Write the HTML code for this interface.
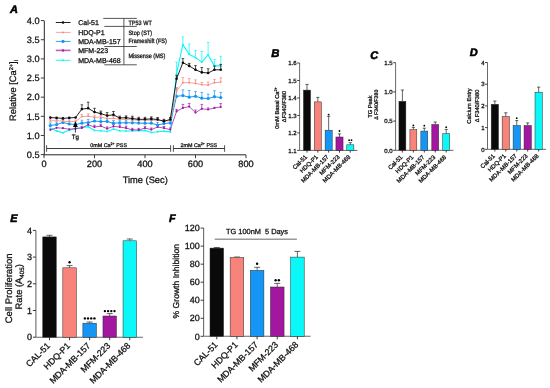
<!DOCTYPE html>
<html><head><meta charset="utf-8"><style>
html,body{margin:0;padding:0;background:#fff;}
body{width:550px;height:388px;overflow:hidden;}
svg{display:block;font-family:"Liberation Sans", sans-serif;filter:blur(0.3px);text-rendering:geometricPrecision;}
text{stroke:#111;stroke-width:0.28px;}
</style></head><body>
<svg width="550" height="388" viewBox="0 0 550 388">
<rect width="550" height="388" fill="#fff"/>
<text x="10.00" y="13.20" font-size="11" font-weight="bold" font-style="italic" fill="#000" style="stroke:#000;stroke-width:0.55px">A</text>
<line x1="44.30" y1="20.60" x2="44.30" y2="155.20" stroke="#262626" stroke-width="1.0"/>
<line x1="40.80" y1="154.60" x2="44.00" y2="154.60" stroke="#262626" stroke-width="0.9"/>
<text x="39.60" y="157.90" font-size="9.2" text-anchor="end" font-weight="normal" font-style="normal" fill="#111" >0.5</text>
<line x1="40.80" y1="135.46" x2="44.00" y2="135.46" stroke="#262626" stroke-width="0.9"/>
<text x="39.60" y="138.76" font-size="9.2" text-anchor="end" font-weight="normal" font-style="normal" fill="#111" >1.0</text>
<line x1="40.80" y1="116.31" x2="44.00" y2="116.31" stroke="#262626" stroke-width="0.9"/>
<text x="39.60" y="119.61" font-size="9.2" text-anchor="end" font-weight="normal" font-style="normal" fill="#111" >1.5</text>
<line x1="40.80" y1="97.17" x2="44.00" y2="97.17" stroke="#262626" stroke-width="0.9"/>
<text x="39.60" y="100.47" font-size="9.2" text-anchor="end" font-weight="normal" font-style="normal" fill="#111" >2.0</text>
<line x1="40.80" y1="78.03" x2="44.00" y2="78.03" stroke="#262626" stroke-width="0.9"/>
<text x="39.60" y="81.33" font-size="9.2" text-anchor="end" font-weight="normal" font-style="normal" fill="#111" >2.5</text>
<line x1="40.80" y1="58.88" x2="44.00" y2="58.88" stroke="#262626" stroke-width="0.9"/>
<text x="39.60" y="62.18" font-size="9.2" text-anchor="end" font-weight="normal" font-style="normal" fill="#111" >3.0</text>
<line x1="40.80" y1="39.74" x2="44.00" y2="39.74" stroke="#262626" stroke-width="0.9"/>
<text x="39.60" y="43.04" font-size="9.2" text-anchor="end" font-weight="normal" font-style="normal" fill="#111" >3.5</text>
<line x1="40.80" y1="20.60" x2="44.00" y2="20.60" stroke="#262626" stroke-width="0.9"/>
<text x="39.60" y="23.90" font-size="9.2" text-anchor="end" font-weight="normal" font-style="normal" fill="#111" >4.0</text>
<line x1="44.00" y1="154.80" x2="246.00" y2="154.80" stroke="#262626" stroke-width="1.0"/>
<line x1="44.00" y1="155.00" x2="44.00" y2="158.20" stroke="#262626" stroke-width="0.9"/>
<text x="44.00" y="166.80" font-size="9.2" text-anchor="middle" font-weight="normal" font-style="normal" fill="#111" >0</text>
<line x1="94.50" y1="155.00" x2="94.50" y2="158.20" stroke="#262626" stroke-width="0.9"/>
<text x="94.50" y="166.80" font-size="9.2" text-anchor="middle" font-weight="normal" font-style="normal" fill="#111" >200</text>
<line x1="145.00" y1="155.00" x2="145.00" y2="158.20" stroke="#262626" stroke-width="0.9"/>
<text x="145.00" y="166.80" font-size="9.2" text-anchor="middle" font-weight="normal" font-style="normal" fill="#111" >400</text>
<line x1="195.50" y1="155.00" x2="195.50" y2="158.20" stroke="#262626" stroke-width="0.9"/>
<text x="195.50" y="166.80" font-size="9.2" text-anchor="middle" font-weight="normal" font-style="normal" fill="#111" >600</text>
<line x1="246.00" y1="155.00" x2="246.00" y2="158.20" stroke="#262626" stroke-width="0.9"/>
<text x="246.00" y="166.80" font-size="9.2" text-anchor="middle" font-weight="normal" font-style="normal" fill="#111" >800</text>
<text x="145.20" y="183.20" font-size="9.3" text-anchor="middle" font-weight="normal" font-style="normal" fill="#111" >Time (Sec)</text>
<text transform="translate(16.2 90.5) rotate(-90)" font-size="9.3" text-anchor="middle" fill="#111">Relative [Ca<tspan font-size="5.6" dy="-3.6">2+</tspan><tspan dy="3.6">]</tspan><tspan font-size="5.6" dy="1.6">i</tspan></text>
<line x1="46.60" y1="148.50" x2="170.60" y2="148.50" stroke="#262626" stroke-width="0.9"/>
<line x1="46.60" y1="145.20" x2="46.60" y2="151.80" stroke="#262626" stroke-width="0.8"/>
<line x1="170.60" y1="145.20" x2="170.60" y2="151.80" stroke="#262626" stroke-width="0.8"/>
<line x1="173.40" y1="148.50" x2="224.60" y2="148.50" stroke="#262626" stroke-width="0.9"/>
<line x1="173.40" y1="145.20" x2="173.40" y2="151.80" stroke="#262626" stroke-width="0.8"/>
<line x1="224.60" y1="145.20" x2="224.60" y2="151.80" stroke="#262626" stroke-width="0.8"/>
<text x="108.6" y="146.6" font-size="5.4" text-anchor="middle" fill="#222">0mM Ca<tspan font-size="3.6" dy="-1.8">2+</tspan><tspan dy="1.8"> PSS</tspan></text>
<text x="198.8" y="146.6" font-size="5.4" text-anchor="middle" fill="#222">2mM Ca<tspan font-size="3.6" dy="-1.8">2+</tspan><tspan dy="1.8"> PSS</tspan></text>
<line x1="176.56" y1="73.70" x2="176.56" y2="62.00" stroke="#0af8f8" stroke-width="0.7"/>
<line x1="175.26" y1="62.00" x2="177.86" y2="62.00" stroke="#0af8f8" stroke-width="0.7"/>
<line x1="182.88" y1="44.70" x2="182.88" y2="36.90" stroke="#0af8f8" stroke-width="0.7"/>
<line x1="181.57" y1="36.90" x2="184.18" y2="36.90" stroke="#0af8f8" stroke-width="0.7"/>
<line x1="189.19" y1="54.30" x2="189.19" y2="44.00" stroke="#0af8f8" stroke-width="0.7"/>
<line x1="187.89" y1="44.00" x2="190.49" y2="44.00" stroke="#0af8f8" stroke-width="0.7"/>
<line x1="195.50" y1="57.60" x2="195.50" y2="50.50" stroke="#0af8f8" stroke-width="0.7"/>
<line x1="194.20" y1="50.50" x2="196.80" y2="50.50" stroke="#0af8f8" stroke-width="0.7"/>
<line x1="201.81" y1="62.10" x2="201.81" y2="51.50" stroke="#0af8f8" stroke-width="0.7"/>
<line x1="200.51" y1="51.50" x2="203.11" y2="51.50" stroke="#0af8f8" stroke-width="0.7"/>
<line x1="208.12" y1="55.00" x2="208.12" y2="42.50" stroke="#0af8f8" stroke-width="0.7"/>
<line x1="206.82" y1="42.50" x2="209.43" y2="42.50" stroke="#0af8f8" stroke-width="0.7"/>
<line x1="214.44" y1="65.90" x2="214.44" y2="59.50" stroke="#0af8f8" stroke-width="0.7"/>
<line x1="213.14" y1="59.50" x2="215.74" y2="59.50" stroke="#0af8f8" stroke-width="0.7"/>
<line x1="220.75" y1="65.90" x2="220.75" y2="56.30" stroke="#0af8f8" stroke-width="0.7"/>
<line x1="219.45" y1="56.30" x2="222.05" y2="56.30" stroke="#0af8f8" stroke-width="0.7"/>
<polyline points="50.31,128.20 56.62,130.90 62.94,132.80 69.25,130.10 75.56,128.60 81.88,127.80 88.19,126.70 94.50,130.50 100.81,130.80 107.12,131.50 113.44,129.00 119.75,130.70 126.06,131.00 132.38,131.00 138.69,130.70 145.00,130.40 151.31,132.50 157.62,131.70 163.94,131.30 170.25,131.90 176.56,73.70 182.88,44.70 189.19,54.30 195.50,57.60 201.81,62.10 208.12,55.00 214.44,65.90 220.75,65.90" fill="none" stroke="#0af8f8" stroke-width="1.1"/>
<circle cx="50.31" cy="128.20" r="1.0" fill="#0af8f8"/>
<circle cx="56.62" cy="130.90" r="1.0" fill="#0af8f8"/>
<circle cx="62.94" cy="132.80" r="1.0" fill="#0af8f8"/>
<circle cx="69.25" cy="130.10" r="1.0" fill="#0af8f8"/>
<circle cx="75.56" cy="128.60" r="1.0" fill="#0af8f8"/>
<circle cx="81.88" cy="127.80" r="1.0" fill="#0af8f8"/>
<circle cx="88.19" cy="126.70" r="1.0" fill="#0af8f8"/>
<circle cx="94.50" cy="130.50" r="1.0" fill="#0af8f8"/>
<circle cx="100.81" cy="130.80" r="1.0" fill="#0af8f8"/>
<circle cx="107.12" cy="131.50" r="1.0" fill="#0af8f8"/>
<circle cx="113.44" cy="129.00" r="1.0" fill="#0af8f8"/>
<circle cx="119.75" cy="130.70" r="1.0" fill="#0af8f8"/>
<circle cx="126.06" cy="131.00" r="1.0" fill="#0af8f8"/>
<circle cx="132.38" cy="131.00" r="1.0" fill="#0af8f8"/>
<circle cx="138.69" cy="130.70" r="1.0" fill="#0af8f8"/>
<circle cx="145.00" cy="130.40" r="1.0" fill="#0af8f8"/>
<circle cx="151.31" cy="132.50" r="1.0" fill="#0af8f8"/>
<circle cx="157.62" cy="131.70" r="1.0" fill="#0af8f8"/>
<circle cx="163.94" cy="131.30" r="1.0" fill="#0af8f8"/>
<circle cx="170.25" cy="131.90" r="1.0" fill="#0af8f8"/>
<circle cx="176.56" cy="73.70" r="1.0" fill="#0af8f8"/>
<circle cx="182.88" cy="44.70" r="1.0" fill="#0af8f8"/>
<circle cx="189.19" cy="54.30" r="1.0" fill="#0af8f8"/>
<circle cx="195.50" cy="57.60" r="1.0" fill="#0af8f8"/>
<circle cx="201.81" cy="62.10" r="1.0" fill="#0af8f8"/>
<circle cx="208.12" cy="55.00" r="1.0" fill="#0af8f8"/>
<circle cx="214.44" cy="65.90" r="1.0" fill="#0af8f8"/>
<circle cx="220.75" cy="65.90" r="1.0" fill="#0af8f8"/>
<line x1="81.88" y1="127.90" x2="81.88" y2="126.40" stroke="#a3169f" stroke-width="0.7"/>
<line x1="80.58" y1="126.40" x2="83.17" y2="126.40" stroke="#a3169f" stroke-width="0.7"/>
<line x1="88.19" y1="124.80" x2="88.19" y2="122.60" stroke="#a3169f" stroke-width="0.7"/>
<line x1="86.89" y1="122.60" x2="89.49" y2="122.60" stroke="#a3169f" stroke-width="0.7"/>
<line x1="94.50" y1="127.00" x2="94.50" y2="125.20" stroke="#a3169f" stroke-width="0.7"/>
<line x1="93.20" y1="125.20" x2="95.80" y2="125.20" stroke="#a3169f" stroke-width="0.7"/>
<line x1="100.81" y1="126.00" x2="100.81" y2="124.20" stroke="#a3169f" stroke-width="0.7"/>
<line x1="99.51" y1="124.20" x2="102.11" y2="124.20" stroke="#a3169f" stroke-width="0.7"/>
<line x1="107.12" y1="128.70" x2="107.12" y2="126.90" stroke="#a3169f" stroke-width="0.7"/>
<line x1="105.83" y1="126.90" x2="108.42" y2="126.90" stroke="#a3169f" stroke-width="0.7"/>
<line x1="113.44" y1="126.40" x2="113.44" y2="124.40" stroke="#a3169f" stroke-width="0.7"/>
<line x1="112.14" y1="124.40" x2="114.74" y2="124.40" stroke="#a3169f" stroke-width="0.7"/>
<line x1="119.75" y1="127.00" x2="119.75" y2="125.00" stroke="#a3169f" stroke-width="0.7"/>
<line x1="118.45" y1="125.00" x2="121.05" y2="125.00" stroke="#a3169f" stroke-width="0.7"/>
<line x1="126.06" y1="128.10" x2="126.06" y2="126.10" stroke="#a3169f" stroke-width="0.7"/>
<line x1="124.76" y1="126.10" x2="127.36" y2="126.10" stroke="#a3169f" stroke-width="0.7"/>
<line x1="132.38" y1="129.90" x2="132.38" y2="128.30" stroke="#a3169f" stroke-width="0.7"/>
<line x1="131.07" y1="128.30" x2="133.68" y2="128.30" stroke="#a3169f" stroke-width="0.7"/>
<line x1="138.69" y1="129.90" x2="138.69" y2="128.30" stroke="#a3169f" stroke-width="0.7"/>
<line x1="137.39" y1="128.30" x2="139.99" y2="128.30" stroke="#a3169f" stroke-width="0.7"/>
<line x1="145.00" y1="128.10" x2="145.00" y2="126.30" stroke="#a3169f" stroke-width="0.7"/>
<line x1="143.70" y1="126.30" x2="146.30" y2="126.30" stroke="#a3169f" stroke-width="0.7"/>
<line x1="151.31" y1="129.60" x2="151.31" y2="128.00" stroke="#a3169f" stroke-width="0.7"/>
<line x1="150.01" y1="128.00" x2="152.61" y2="128.00" stroke="#a3169f" stroke-width="0.7"/>
<line x1="157.62" y1="127.00" x2="157.62" y2="125.40" stroke="#a3169f" stroke-width="0.7"/>
<line x1="156.32" y1="125.40" x2="158.93" y2="125.40" stroke="#a3169f" stroke-width="0.7"/>
<line x1="163.94" y1="128.10" x2="163.94" y2="126.50" stroke="#a3169f" stroke-width="0.7"/>
<line x1="162.64" y1="126.50" x2="165.24" y2="126.50" stroke="#a3169f" stroke-width="0.7"/>
<line x1="170.25" y1="129.60" x2="170.25" y2="128.00" stroke="#a3169f" stroke-width="0.7"/>
<line x1="168.95" y1="128.00" x2="171.55" y2="128.00" stroke="#a3169f" stroke-width="0.7"/>
<line x1="176.56" y1="111.40" x2="176.56" y2="109.40" stroke="#a3169f" stroke-width="0.7"/>
<line x1="175.26" y1="109.40" x2="177.86" y2="109.40" stroke="#a3169f" stroke-width="0.7"/>
<line x1="182.88" y1="107.90" x2="182.88" y2="104.40" stroke="#a3169f" stroke-width="0.7"/>
<line x1="181.57" y1="104.40" x2="184.18" y2="104.40" stroke="#a3169f" stroke-width="0.7"/>
<line x1="189.19" y1="106.60" x2="189.19" y2="103.40" stroke="#a3169f" stroke-width="0.7"/>
<line x1="187.89" y1="103.40" x2="190.49" y2="103.40" stroke="#a3169f" stroke-width="0.7"/>
<line x1="195.50" y1="112.60" x2="195.50" y2="110.00" stroke="#a3169f" stroke-width="0.7"/>
<line x1="194.20" y1="110.00" x2="196.80" y2="110.00" stroke="#a3169f" stroke-width="0.7"/>
<line x1="201.81" y1="108.80" x2="201.81" y2="104.40" stroke="#a3169f" stroke-width="0.7"/>
<line x1="200.51" y1="104.40" x2="203.11" y2="104.40" stroke="#a3169f" stroke-width="0.7"/>
<line x1="208.12" y1="109.50" x2="208.12" y2="107.90" stroke="#a3169f" stroke-width="0.7"/>
<line x1="206.82" y1="107.90" x2="209.43" y2="107.90" stroke="#a3169f" stroke-width="0.7"/>
<line x1="220.75" y1="107.00" x2="220.75" y2="103.60" stroke="#a3169f" stroke-width="0.7"/>
<line x1="219.45" y1="103.60" x2="222.05" y2="103.60" stroke="#a3169f" stroke-width="0.7"/>
<polyline points="50.31,129.80 56.62,127.80 62.94,128.20 69.25,129.30 75.56,128.60 81.88,127.90 88.19,124.80 94.50,127.00 100.81,126.00 107.12,128.70 113.44,126.40 119.75,127.00 126.06,128.10 132.38,129.90 138.69,129.90 145.00,128.10 151.31,129.60 157.62,127.00 163.94,128.10 170.25,129.60 176.56,111.40 182.88,107.90 189.19,106.60 195.50,112.60 201.81,108.80 208.12,109.50 214.44,107.90 220.75,107.00" fill="none" stroke="#b03cb0" stroke-width="0.9"/>
<circle cx="50.31" cy="129.80" r="1.1" fill="#a3169f"/>
<circle cx="56.62" cy="127.80" r="1.1" fill="#a3169f"/>
<circle cx="62.94" cy="128.20" r="1.1" fill="#a3169f"/>
<circle cx="69.25" cy="129.30" r="1.1" fill="#a3169f"/>
<circle cx="75.56" cy="128.60" r="1.1" fill="#a3169f"/>
<circle cx="81.88" cy="127.90" r="1.1" fill="#a3169f"/>
<circle cx="88.19" cy="124.80" r="1.1" fill="#a3169f"/>
<circle cx="94.50" cy="127.00" r="1.1" fill="#a3169f"/>
<circle cx="100.81" cy="126.00" r="1.1" fill="#a3169f"/>
<circle cx="107.12" cy="128.70" r="1.1" fill="#a3169f"/>
<circle cx="113.44" cy="126.40" r="1.1" fill="#a3169f"/>
<circle cx="119.75" cy="127.00" r="1.1" fill="#a3169f"/>
<circle cx="126.06" cy="128.10" r="1.1" fill="#a3169f"/>
<circle cx="132.38" cy="129.90" r="1.1" fill="#a3169f"/>
<circle cx="138.69" cy="129.90" r="1.1" fill="#a3169f"/>
<circle cx="145.00" cy="128.10" r="1.1" fill="#a3169f"/>
<circle cx="151.31" cy="129.60" r="1.1" fill="#a3169f"/>
<circle cx="157.62" cy="127.00" r="1.1" fill="#a3169f"/>
<circle cx="163.94" cy="128.10" r="1.1" fill="#a3169f"/>
<circle cx="170.25" cy="129.60" r="1.1" fill="#a3169f"/>
<circle cx="176.56" cy="111.40" r="1.1" fill="#a3169f"/>
<circle cx="182.88" cy="107.90" r="1.1" fill="#a3169f"/>
<circle cx="189.19" cy="106.60" r="1.1" fill="#a3169f"/>
<circle cx="195.50" cy="112.60" r="1.1" fill="#a3169f"/>
<circle cx="201.81" cy="108.80" r="1.1" fill="#a3169f"/>
<circle cx="208.12" cy="109.50" r="1.1" fill="#a3169f"/>
<circle cx="214.44" cy="107.90" r="1.1" fill="#a3169f"/>
<circle cx="220.75" cy="107.00" r="1.1" fill="#a3169f"/>
<line x1="50.31" y1="125.50" x2="50.31" y2="123.00" stroke="#1596f5" stroke-width="0.7"/>
<line x1="49.01" y1="123.00" x2="51.61" y2="123.00" stroke="#1596f5" stroke-width="0.7"/>
<line x1="56.62" y1="124.60" x2="56.62" y2="122.10" stroke="#1596f5" stroke-width="0.7"/>
<line x1="55.33" y1="122.10" x2="57.92" y2="122.10" stroke="#1596f5" stroke-width="0.7"/>
<line x1="62.94" y1="122.50" x2="62.94" y2="119.70" stroke="#1596f5" stroke-width="0.7"/>
<line x1="61.64" y1="119.70" x2="64.24" y2="119.70" stroke="#1596f5" stroke-width="0.7"/>
<line x1="69.25" y1="124.00" x2="69.25" y2="121.50" stroke="#1596f5" stroke-width="0.7"/>
<line x1="67.95" y1="121.50" x2="70.55" y2="121.50" stroke="#1596f5" stroke-width="0.7"/>
<line x1="75.56" y1="124.50" x2="75.56" y2="122.00" stroke="#1596f5" stroke-width="0.7"/>
<line x1="74.26" y1="122.00" x2="76.86" y2="122.00" stroke="#1596f5" stroke-width="0.7"/>
<line x1="81.88" y1="123.20" x2="81.88" y2="120.20" stroke="#1596f5" stroke-width="0.7"/>
<line x1="80.58" y1="120.20" x2="83.17" y2="120.20" stroke="#1596f5" stroke-width="0.7"/>
<line x1="88.19" y1="122.60" x2="88.19" y2="119.40" stroke="#1596f5" stroke-width="0.7"/>
<line x1="86.89" y1="119.40" x2="89.49" y2="119.40" stroke="#1596f5" stroke-width="0.7"/>
<line x1="94.50" y1="121.00" x2="94.50" y2="117.80" stroke="#1596f5" stroke-width="0.7"/>
<line x1="93.20" y1="117.80" x2="95.80" y2="117.80" stroke="#1596f5" stroke-width="0.7"/>
<line x1="100.81" y1="121.60" x2="100.81" y2="118.60" stroke="#1596f5" stroke-width="0.7"/>
<line x1="99.51" y1="118.60" x2="102.11" y2="118.60" stroke="#1596f5" stroke-width="0.7"/>
<line x1="107.12" y1="121.40" x2="107.12" y2="118.80" stroke="#1596f5" stroke-width="0.7"/>
<line x1="105.83" y1="118.80" x2="108.42" y2="118.80" stroke="#1596f5" stroke-width="0.7"/>
<line x1="113.44" y1="123.20" x2="113.44" y2="120.60" stroke="#1596f5" stroke-width="0.7"/>
<line x1="112.14" y1="120.60" x2="114.74" y2="120.60" stroke="#1596f5" stroke-width="0.7"/>
<line x1="119.75" y1="122.80" x2="119.75" y2="120.20" stroke="#1596f5" stroke-width="0.7"/>
<line x1="118.45" y1="120.20" x2="121.05" y2="120.20" stroke="#1596f5" stroke-width="0.7"/>
<line x1="126.06" y1="122.80" x2="126.06" y2="120.20" stroke="#1596f5" stroke-width="0.7"/>
<line x1="124.76" y1="120.20" x2="127.36" y2="120.20" stroke="#1596f5" stroke-width="0.7"/>
<line x1="132.38" y1="122.80" x2="132.38" y2="120.20" stroke="#1596f5" stroke-width="0.7"/>
<line x1="131.07" y1="120.20" x2="133.68" y2="120.20" stroke="#1596f5" stroke-width="0.7"/>
<line x1="138.69" y1="123.10" x2="138.69" y2="120.50" stroke="#1596f5" stroke-width="0.7"/>
<line x1="137.39" y1="120.50" x2="139.99" y2="120.50" stroke="#1596f5" stroke-width="0.7"/>
<line x1="145.00" y1="123.20" x2="145.00" y2="120.60" stroke="#1596f5" stroke-width="0.7"/>
<line x1="143.70" y1="120.60" x2="146.30" y2="120.60" stroke="#1596f5" stroke-width="0.7"/>
<line x1="151.31" y1="123.20" x2="151.31" y2="120.60" stroke="#1596f5" stroke-width="0.7"/>
<line x1="150.01" y1="120.60" x2="152.61" y2="120.60" stroke="#1596f5" stroke-width="0.7"/>
<line x1="157.62" y1="125.00" x2="157.62" y2="122.40" stroke="#1596f5" stroke-width="0.7"/>
<line x1="156.32" y1="122.40" x2="158.93" y2="122.40" stroke="#1596f5" stroke-width="0.7"/>
<line x1="163.94" y1="123.60" x2="163.94" y2="121.00" stroke="#1596f5" stroke-width="0.7"/>
<line x1="162.64" y1="121.00" x2="165.24" y2="121.00" stroke="#1596f5" stroke-width="0.7"/>
<line x1="170.25" y1="123.00" x2="170.25" y2="120.40" stroke="#1596f5" stroke-width="0.7"/>
<line x1="168.95" y1="120.40" x2="171.55" y2="120.40" stroke="#1596f5" stroke-width="0.7"/>
<line x1="176.56" y1="96.30" x2="176.56" y2="87.90" stroke="#1596f5" stroke-width="0.7"/>
<line x1="175.26" y1="87.90" x2="177.86" y2="87.90" stroke="#1596f5" stroke-width="0.7"/>
<line x1="182.88" y1="95.60" x2="182.88" y2="89.80" stroke="#1596f5" stroke-width="0.7"/>
<line x1="181.57" y1="89.80" x2="184.18" y2="89.80" stroke="#1596f5" stroke-width="0.7"/>
<line x1="189.19" y1="97.20" x2="189.19" y2="90.50" stroke="#1596f5" stroke-width="0.7"/>
<line x1="187.89" y1="90.50" x2="190.49" y2="90.50" stroke="#1596f5" stroke-width="0.7"/>
<line x1="195.50" y1="96.30" x2="195.50" y2="91.50" stroke="#1596f5" stroke-width="0.7"/>
<line x1="194.20" y1="91.50" x2="196.80" y2="91.50" stroke="#1596f5" stroke-width="0.7"/>
<line x1="201.81" y1="98.20" x2="201.81" y2="92.40" stroke="#1596f5" stroke-width="0.7"/>
<line x1="200.51" y1="92.40" x2="203.11" y2="92.40" stroke="#1596f5" stroke-width="0.7"/>
<line x1="208.12" y1="98.50" x2="208.12" y2="94.10" stroke="#1596f5" stroke-width="0.7"/>
<line x1="206.82" y1="94.10" x2="209.43" y2="94.10" stroke="#1596f5" stroke-width="0.7"/>
<line x1="214.44" y1="96.70" x2="214.44" y2="90.70" stroke="#1596f5" stroke-width="0.7"/>
<line x1="213.14" y1="90.70" x2="215.74" y2="90.70" stroke="#1596f5" stroke-width="0.7"/>
<line x1="220.75" y1="97.60" x2="220.75" y2="92.40" stroke="#1596f5" stroke-width="0.7"/>
<line x1="219.45" y1="92.40" x2="222.05" y2="92.40" stroke="#1596f5" stroke-width="0.7"/>
<polyline points="50.31,125.50 56.62,124.60 62.94,122.50 69.25,124.00 75.56,124.50 81.88,123.20 88.19,122.60 94.50,121.00 100.81,121.60 107.12,121.40 113.44,123.20 119.75,122.80 126.06,122.80 132.38,122.80 138.69,123.10 145.00,123.20 151.31,123.20 157.62,125.00 163.94,123.60 170.25,123.00 176.56,96.30 182.88,95.60 189.19,97.20 195.50,96.30 201.81,98.20 208.12,98.50 214.44,96.70 220.75,97.60" fill="none" stroke="#1596f5" stroke-width="1.0"/>
<circle cx="50.31" cy="125.50" r="1.6" fill="#1596f5"/>
<circle cx="56.62" cy="124.60" r="1.6" fill="#1596f5"/>
<circle cx="62.94" cy="122.50" r="1.6" fill="#1596f5"/>
<circle cx="69.25" cy="124.00" r="1.6" fill="#1596f5"/>
<circle cx="75.56" cy="124.50" r="1.6" fill="#1596f5"/>
<circle cx="81.88" cy="123.20" r="1.6" fill="#1596f5"/>
<circle cx="88.19" cy="122.60" r="1.6" fill="#1596f5"/>
<circle cx="94.50" cy="121.00" r="1.6" fill="#1596f5"/>
<circle cx="100.81" cy="121.60" r="1.6" fill="#1596f5"/>
<circle cx="107.12" cy="121.40" r="1.6" fill="#1596f5"/>
<circle cx="113.44" cy="123.20" r="1.6" fill="#1596f5"/>
<circle cx="119.75" cy="122.80" r="1.6" fill="#1596f5"/>
<circle cx="126.06" cy="122.80" r="1.6" fill="#1596f5"/>
<circle cx="132.38" cy="122.80" r="1.6" fill="#1596f5"/>
<circle cx="138.69" cy="123.10" r="1.6" fill="#1596f5"/>
<circle cx="145.00" cy="123.20" r="1.6" fill="#1596f5"/>
<circle cx="151.31" cy="123.20" r="1.6" fill="#1596f5"/>
<circle cx="157.62" cy="125.00" r="1.6" fill="#1596f5"/>
<circle cx="163.94" cy="123.60" r="1.6" fill="#1596f5"/>
<circle cx="170.25" cy="123.00" r="1.6" fill="#1596f5"/>
<circle cx="176.56" cy="96.30" r="1.6" fill="#1596f5"/>
<circle cx="182.88" cy="95.60" r="1.6" fill="#1596f5"/>
<circle cx="189.19" cy="97.20" r="1.6" fill="#1596f5"/>
<circle cx="195.50" cy="96.30" r="1.6" fill="#1596f5"/>
<circle cx="201.81" cy="98.20" r="1.6" fill="#1596f5"/>
<circle cx="208.12" cy="98.50" r="1.6" fill="#1596f5"/>
<circle cx="214.44" cy="96.70" r="1.6" fill="#1596f5"/>
<circle cx="220.75" cy="97.60" r="1.6" fill="#1596f5"/>
<line x1="50.31" y1="120.90" x2="50.31" y2="119.40" stroke="#f8837a" stroke-width="0.7"/>
<line x1="49.01" y1="119.40" x2="51.61" y2="119.40" stroke="#f8837a" stroke-width="0.7"/>
<line x1="56.62" y1="120.70" x2="56.62" y2="119.20" stroke="#f8837a" stroke-width="0.7"/>
<line x1="55.33" y1="119.20" x2="57.92" y2="119.20" stroke="#f8837a" stroke-width="0.7"/>
<line x1="62.94" y1="121.20" x2="62.94" y2="119.70" stroke="#f8837a" stroke-width="0.7"/>
<line x1="61.64" y1="119.70" x2="64.24" y2="119.70" stroke="#f8837a" stroke-width="0.7"/>
<line x1="69.25" y1="121.60" x2="69.25" y2="120.10" stroke="#f8837a" stroke-width="0.7"/>
<line x1="67.95" y1="120.10" x2="70.55" y2="120.10" stroke="#f8837a" stroke-width="0.7"/>
<line x1="75.56" y1="121.50" x2="75.56" y2="120.00" stroke="#f8837a" stroke-width="0.7"/>
<line x1="74.26" y1="120.00" x2="76.86" y2="120.00" stroke="#f8837a" stroke-width="0.7"/>
<line x1="81.88" y1="116.60" x2="81.88" y2="114.60" stroke="#f8837a" stroke-width="0.7"/>
<line x1="80.58" y1="114.60" x2="83.17" y2="114.60" stroke="#f8837a" stroke-width="0.7"/>
<line x1="88.19" y1="116.20" x2="88.19" y2="113.90" stroke="#f8837a" stroke-width="0.7"/>
<line x1="86.89" y1="113.90" x2="89.49" y2="113.90" stroke="#f8837a" stroke-width="0.7"/>
<line x1="94.50" y1="117.20" x2="94.50" y2="115.40" stroke="#f8837a" stroke-width="0.7"/>
<line x1="93.20" y1="115.40" x2="95.80" y2="115.40" stroke="#f8837a" stroke-width="0.7"/>
<line x1="100.81" y1="117.20" x2="100.81" y2="115.40" stroke="#f8837a" stroke-width="0.7"/>
<line x1="99.51" y1="115.40" x2="102.11" y2="115.40" stroke="#f8837a" stroke-width="0.7"/>
<line x1="107.12" y1="118.60" x2="107.12" y2="116.80" stroke="#f8837a" stroke-width="0.7"/>
<line x1="105.83" y1="116.80" x2="108.42" y2="116.80" stroke="#f8837a" stroke-width="0.7"/>
<line x1="113.44" y1="118.40" x2="113.44" y2="116.60" stroke="#f8837a" stroke-width="0.7"/>
<line x1="112.14" y1="116.60" x2="114.74" y2="116.60" stroke="#f8837a" stroke-width="0.7"/>
<line x1="119.75" y1="119.30" x2="119.75" y2="117.70" stroke="#f8837a" stroke-width="0.7"/>
<line x1="118.45" y1="117.70" x2="121.05" y2="117.70" stroke="#f8837a" stroke-width="0.7"/>
<line x1="126.06" y1="119.50" x2="126.06" y2="117.90" stroke="#f8837a" stroke-width="0.7"/>
<line x1="124.76" y1="117.90" x2="127.36" y2="117.90" stroke="#f8837a" stroke-width="0.7"/>
<line x1="132.38" y1="119.80" x2="132.38" y2="118.20" stroke="#f8837a" stroke-width="0.7"/>
<line x1="131.07" y1="118.20" x2="133.68" y2="118.20" stroke="#f8837a" stroke-width="0.7"/>
<line x1="138.69" y1="120.00" x2="138.69" y2="118.40" stroke="#f8837a" stroke-width="0.7"/>
<line x1="137.39" y1="118.40" x2="139.99" y2="118.40" stroke="#f8837a" stroke-width="0.7"/>
<line x1="145.00" y1="120.20" x2="145.00" y2="118.60" stroke="#f8837a" stroke-width="0.7"/>
<line x1="143.70" y1="118.60" x2="146.30" y2="118.60" stroke="#f8837a" stroke-width="0.7"/>
<line x1="151.31" y1="120.20" x2="151.31" y2="118.60" stroke="#f8837a" stroke-width="0.7"/>
<line x1="150.01" y1="118.60" x2="152.61" y2="118.60" stroke="#f8837a" stroke-width="0.7"/>
<line x1="157.62" y1="120.20" x2="157.62" y2="118.60" stroke="#f8837a" stroke-width="0.7"/>
<line x1="156.32" y1="118.60" x2="158.93" y2="118.60" stroke="#f8837a" stroke-width="0.7"/>
<line x1="163.94" y1="120.90" x2="163.94" y2="119.30" stroke="#f8837a" stroke-width="0.7"/>
<line x1="162.64" y1="119.30" x2="165.24" y2="119.30" stroke="#f8837a" stroke-width="0.7"/>
<line x1="170.25" y1="120.90" x2="170.25" y2="119.30" stroke="#f8837a" stroke-width="0.7"/>
<line x1="168.95" y1="119.30" x2="171.55" y2="119.30" stroke="#f8837a" stroke-width="0.7"/>
<line x1="176.56" y1="91.10" x2="176.56" y2="88.10" stroke="#f8837a" stroke-width="0.7"/>
<line x1="175.26" y1="88.10" x2="177.86" y2="88.10" stroke="#f8837a" stroke-width="0.7"/>
<line x1="182.88" y1="82.70" x2="182.88" y2="77.60" stroke="#f8837a" stroke-width="0.7"/>
<line x1="181.57" y1="77.60" x2="184.18" y2="77.60" stroke="#f8837a" stroke-width="0.7"/>
<line x1="189.19" y1="82.70" x2="189.19" y2="78.60" stroke="#f8837a" stroke-width="0.7"/>
<line x1="187.89" y1="78.60" x2="190.49" y2="78.60" stroke="#f8837a" stroke-width="0.7"/>
<line x1="195.50" y1="83.40" x2="195.50" y2="79.90" stroke="#f8837a" stroke-width="0.7"/>
<line x1="194.20" y1="79.90" x2="196.80" y2="79.90" stroke="#f8837a" stroke-width="0.7"/>
<line x1="201.81" y1="84.70" x2="201.81" y2="82.50" stroke="#f8837a" stroke-width="0.7"/>
<line x1="200.51" y1="82.50" x2="203.11" y2="82.50" stroke="#f8837a" stroke-width="0.7"/>
<line x1="208.12" y1="85.00" x2="208.12" y2="82.10" stroke="#f8837a" stroke-width="0.7"/>
<line x1="206.82" y1="82.10" x2="209.43" y2="82.10" stroke="#f8837a" stroke-width="0.7"/>
<line x1="214.44" y1="82.70" x2="214.44" y2="79.50" stroke="#f8837a" stroke-width="0.7"/>
<line x1="213.14" y1="79.50" x2="215.74" y2="79.50" stroke="#f8837a" stroke-width="0.7"/>
<line x1="220.75" y1="82.10" x2="220.75" y2="77.80" stroke="#f8837a" stroke-width="0.7"/>
<line x1="219.45" y1="77.80" x2="222.05" y2="77.80" stroke="#f8837a" stroke-width="0.7"/>
<polyline points="50.31,120.90 56.62,120.70 62.94,121.20 69.25,121.60 75.56,121.50 81.88,116.60 88.19,116.20 94.50,117.20 100.81,117.20 107.12,118.60 113.44,118.40 119.75,119.30 126.06,119.50 132.38,119.80 138.69,120.00 145.00,120.20 151.31,120.20 157.62,120.20 163.94,120.90 170.25,120.90 176.56,91.10 182.88,82.70 189.19,82.70 195.50,83.40 201.81,84.70 208.12,85.00 214.44,82.70 220.75,82.10" fill="none" stroke="#f49a92" stroke-width="0.9"/>
<circle cx="50.31" cy="120.90" r="0.9" fill="#f8837a"/>
<circle cx="56.62" cy="120.70" r="0.9" fill="#f8837a"/>
<circle cx="62.94" cy="121.20" r="0.9" fill="#f8837a"/>
<circle cx="69.25" cy="121.60" r="0.9" fill="#f8837a"/>
<circle cx="75.56" cy="121.50" r="0.9" fill="#f8837a"/>
<circle cx="81.88" cy="116.60" r="0.9" fill="#f8837a"/>
<circle cx="88.19" cy="116.20" r="0.9" fill="#f8837a"/>
<circle cx="94.50" cy="117.20" r="0.9" fill="#f8837a"/>
<circle cx="100.81" cy="117.20" r="0.9" fill="#f8837a"/>
<circle cx="107.12" cy="118.60" r="0.9" fill="#f8837a"/>
<circle cx="113.44" cy="118.40" r="0.9" fill="#f8837a"/>
<circle cx="119.75" cy="119.30" r="0.9" fill="#f8837a"/>
<circle cx="126.06" cy="119.50" r="0.9" fill="#f8837a"/>
<circle cx="132.38" cy="119.80" r="0.9" fill="#f8837a"/>
<circle cx="138.69" cy="120.00" r="0.9" fill="#f8837a"/>
<circle cx="145.00" cy="120.20" r="0.9" fill="#f8837a"/>
<circle cx="151.31" cy="120.20" r="0.9" fill="#f8837a"/>
<circle cx="157.62" cy="120.20" r="0.9" fill="#f8837a"/>
<circle cx="163.94" cy="120.90" r="0.9" fill="#f8837a"/>
<circle cx="170.25" cy="120.90" r="0.9" fill="#f8837a"/>
<circle cx="176.56" cy="91.10" r="0.9" fill="#f8837a"/>
<circle cx="182.88" cy="82.70" r="0.9" fill="#f8837a"/>
<circle cx="189.19" cy="82.70" r="0.9" fill="#f8837a"/>
<circle cx="195.50" cy="83.40" r="0.9" fill="#f8837a"/>
<circle cx="201.81" cy="84.70" r="0.9" fill="#f8837a"/>
<circle cx="208.12" cy="85.00" r="0.9" fill="#f8837a"/>
<circle cx="214.44" cy="82.70" r="0.9" fill="#f8837a"/>
<circle cx="220.75" cy="82.10" r="0.9" fill="#f8837a"/>
<line x1="81.88" y1="109.10" x2="81.88" y2="104.80" stroke="#0a0a0a" stroke-width="0.7"/>
<line x1="80.58" y1="104.80" x2="83.17" y2="104.80" stroke="#0a0a0a" stroke-width="0.7"/>
<line x1="88.19" y1="108.30" x2="88.19" y2="102.20" stroke="#0a0a0a" stroke-width="0.7"/>
<line x1="86.89" y1="102.20" x2="89.49" y2="102.20" stroke="#0a0a0a" stroke-width="0.7"/>
<line x1="94.50" y1="112.10" x2="94.50" y2="108.30" stroke="#0a0a0a" stroke-width="0.7"/>
<line x1="93.20" y1="108.30" x2="95.80" y2="108.30" stroke="#0a0a0a" stroke-width="0.7"/>
<line x1="100.81" y1="113.60" x2="100.81" y2="111.10" stroke="#0a0a0a" stroke-width="0.7"/>
<line x1="99.51" y1="111.10" x2="102.11" y2="111.10" stroke="#0a0a0a" stroke-width="0.7"/>
<line x1="107.12" y1="115.60" x2="107.12" y2="112.60" stroke="#0a0a0a" stroke-width="0.7"/>
<line x1="105.83" y1="112.60" x2="108.42" y2="112.60" stroke="#0a0a0a" stroke-width="0.7"/>
<line x1="113.44" y1="114.80" x2="113.44" y2="111.50" stroke="#0a0a0a" stroke-width="0.7"/>
<line x1="112.14" y1="111.50" x2="114.74" y2="111.50" stroke="#0a0a0a" stroke-width="0.7"/>
<line x1="119.75" y1="118.00" x2="119.75" y2="116.20" stroke="#0a0a0a" stroke-width="0.7"/>
<line x1="118.45" y1="116.20" x2="121.05" y2="116.20" stroke="#0a0a0a" stroke-width="0.7"/>
<line x1="126.06" y1="117.70" x2="126.06" y2="115.90" stroke="#0a0a0a" stroke-width="0.7"/>
<line x1="124.76" y1="115.90" x2="127.36" y2="115.90" stroke="#0a0a0a" stroke-width="0.7"/>
<line x1="132.38" y1="118.60" x2="132.38" y2="116.20" stroke="#0a0a0a" stroke-width="0.7"/>
<line x1="131.07" y1="116.20" x2="133.68" y2="116.20" stroke="#0a0a0a" stroke-width="0.7"/>
<line x1="138.69" y1="119.30" x2="138.69" y2="117.30" stroke="#0a0a0a" stroke-width="0.7"/>
<line x1="137.39" y1="117.30" x2="139.99" y2="117.30" stroke="#0a0a0a" stroke-width="0.7"/>
<line x1="145.00" y1="119.30" x2="145.00" y2="117.30" stroke="#0a0a0a" stroke-width="0.7"/>
<line x1="143.70" y1="117.30" x2="146.30" y2="117.30" stroke="#0a0a0a" stroke-width="0.7"/>
<line x1="151.31" y1="118.90" x2="151.31" y2="116.90" stroke="#0a0a0a" stroke-width="0.7"/>
<line x1="150.01" y1="116.90" x2="152.61" y2="116.90" stroke="#0a0a0a" stroke-width="0.7"/>
<line x1="157.62" y1="119.50" x2="157.62" y2="117.50" stroke="#0a0a0a" stroke-width="0.7"/>
<line x1="156.32" y1="117.50" x2="158.93" y2="117.50" stroke="#0a0a0a" stroke-width="0.7"/>
<line x1="163.94" y1="121.20" x2="163.94" y2="119.40" stroke="#0a0a0a" stroke-width="0.7"/>
<line x1="162.64" y1="119.40" x2="165.24" y2="119.40" stroke="#0a0a0a" stroke-width="0.7"/>
<line x1="170.25" y1="119.50" x2="170.25" y2="117.50" stroke="#0a0a0a" stroke-width="0.7"/>
<line x1="168.95" y1="117.50" x2="171.55" y2="117.50" stroke="#0a0a0a" stroke-width="0.7"/>
<line x1="176.56" y1="78.80" x2="176.56" y2="75.30" stroke="#0a0a0a" stroke-width="0.7"/>
<line x1="175.26" y1="75.30" x2="177.86" y2="75.30" stroke="#0a0a0a" stroke-width="0.7"/>
<line x1="182.88" y1="62.70" x2="182.88" y2="58.60" stroke="#0a0a0a" stroke-width="0.7"/>
<line x1="181.57" y1="58.60" x2="184.18" y2="58.60" stroke="#0a0a0a" stroke-width="0.7"/>
<line x1="189.19" y1="65.90" x2="189.19" y2="63.40" stroke="#0a0a0a" stroke-width="0.7"/>
<line x1="187.89" y1="63.40" x2="190.49" y2="63.40" stroke="#0a0a0a" stroke-width="0.7"/>
<line x1="195.50" y1="69.80" x2="195.50" y2="65.60" stroke="#0a0a0a" stroke-width="0.7"/>
<line x1="194.20" y1="65.60" x2="196.80" y2="65.60" stroke="#0a0a0a" stroke-width="0.7"/>
<line x1="201.81" y1="72.40" x2="201.81" y2="67.50" stroke="#0a0a0a" stroke-width="0.7"/>
<line x1="200.51" y1="67.50" x2="203.11" y2="67.50" stroke="#0a0a0a" stroke-width="0.7"/>
<line x1="208.12" y1="73.00" x2="208.12" y2="68.80" stroke="#0a0a0a" stroke-width="0.7"/>
<line x1="206.82" y1="68.80" x2="209.43" y2="68.80" stroke="#0a0a0a" stroke-width="0.7"/>
<line x1="214.44" y1="69.80" x2="214.44" y2="66.00" stroke="#0a0a0a" stroke-width="0.7"/>
<line x1="213.14" y1="66.00" x2="215.74" y2="66.00" stroke="#0a0a0a" stroke-width="0.7"/>
<line x1="220.75" y1="69.80" x2="220.75" y2="64.40" stroke="#0a0a0a" stroke-width="0.7"/>
<line x1="219.45" y1="64.40" x2="222.05" y2="64.40" stroke="#0a0a0a" stroke-width="0.7"/>
<polyline points="50.31,117.60 56.62,117.90 62.94,118.40 69.25,117.90 75.56,117.50 81.88,109.10 88.19,108.30 94.50,112.10 100.81,113.60 107.12,115.60 113.44,114.80 119.75,118.00 126.06,117.70 132.38,118.60 138.69,119.30 145.00,119.30 151.31,118.90 157.62,119.50 163.94,121.20 170.25,119.50 176.56,78.80 182.88,62.70 189.19,65.90 195.50,69.80 201.81,72.40 208.12,73.00 214.44,69.80 220.75,69.80" fill="none" stroke="#0a0a0a" stroke-width="0.9"/>
<circle cx="50.31" cy="117.60" r="1.3" fill="#0a0a0a"/>
<circle cx="56.62" cy="117.90" r="1.3" fill="#0a0a0a"/>
<circle cx="62.94" cy="118.40" r="1.3" fill="#0a0a0a"/>
<circle cx="69.25" cy="117.90" r="1.3" fill="#0a0a0a"/>
<circle cx="75.56" cy="117.50" r="1.3" fill="#0a0a0a"/>
<circle cx="81.88" cy="109.10" r="1.3" fill="#0a0a0a"/>
<circle cx="88.19" cy="108.30" r="1.3" fill="#0a0a0a"/>
<circle cx="94.50" cy="112.10" r="1.3" fill="#0a0a0a"/>
<circle cx="100.81" cy="113.60" r="1.3" fill="#0a0a0a"/>
<circle cx="107.12" cy="115.60" r="1.3" fill="#0a0a0a"/>
<circle cx="113.44" cy="114.80" r="1.3" fill="#0a0a0a"/>
<circle cx="119.75" cy="118.00" r="1.3" fill="#0a0a0a"/>
<circle cx="126.06" cy="117.70" r="1.3" fill="#0a0a0a"/>
<circle cx="132.38" cy="118.60" r="1.3" fill="#0a0a0a"/>
<circle cx="138.69" cy="119.30" r="1.3" fill="#0a0a0a"/>
<circle cx="145.00" cy="119.30" r="1.3" fill="#0a0a0a"/>
<circle cx="151.31" cy="118.90" r="1.3" fill="#0a0a0a"/>
<circle cx="157.62" cy="119.50" r="1.3" fill="#0a0a0a"/>
<circle cx="163.94" cy="121.20" r="1.3" fill="#0a0a0a"/>
<circle cx="170.25" cy="119.50" r="1.3" fill="#0a0a0a"/>
<circle cx="176.56" cy="78.80" r="1.3" fill="#0a0a0a"/>
<circle cx="182.88" cy="62.70" r="1.3" fill="#0a0a0a"/>
<circle cx="189.19" cy="65.90" r="1.3" fill="#0a0a0a"/>
<circle cx="195.50" cy="69.80" r="1.3" fill="#0a0a0a"/>
<circle cx="201.81" cy="72.40" r="1.3" fill="#0a0a0a"/>
<circle cx="208.12" cy="73.00" r="1.3" fill="#0a0a0a"/>
<circle cx="214.44" cy="69.80" r="1.3" fill="#0a0a0a"/>
<circle cx="220.75" cy="69.80" r="1.3" fill="#0a0a0a"/>
<polygon points="75.4,121.6 73.0,126.9 77.8,126.9" fill="#000"/>
<line x1="75.40" y1="126.00" x2="75.40" y2="132.60" stroke="#111" stroke-width="0.8"/>
<text x="75.40" y="139.00" font-size="6.2" text-anchor="middle" font-weight="normal" font-style="normal" fill="#111" >Tg</text>
<line x1="55.80" y1="22.50" x2="70.60" y2="22.50" stroke="#0a0a0a" stroke-width="0.9"/>
<circle cx="63.0" cy="22.5" r="1.3" fill="#0a0a0a"/>
<text x="78.20" y="25.00" font-size="7.0" text-anchor="start" font-weight="normal" font-style="normal" fill="#111" >Cal-51</text>
<line x1="55.80" y1="32.40" x2="70.60" y2="32.40" stroke="#f49a92" stroke-width="0.9"/>
<circle cx="63.0" cy="32.4" r="0.9" fill="#f8837a"/>
<text x="78.20" y="34.90" font-size="7.0" text-anchor="start" font-weight="normal" font-style="normal" fill="#111" >HDQ-P1</text>
<line x1="55.80" y1="41.40" x2="70.60" y2="41.40" stroke="#1596f5" stroke-width="0.9"/>
<circle cx="63.0" cy="41.4" r="1.6" fill="#1596f5"/>
<text x="78.20" y="43.90" font-size="7.0" text-anchor="start" font-weight="normal" font-style="normal" fill="#111" >MDA-MB-157</text>
<line x1="55.80" y1="50.40" x2="70.60" y2="50.40" stroke="#c060c0" stroke-width="1.6"/>
<circle cx="63.0" cy="50.4" r="1.2" fill="#a3169f"/>
<text x="78.20" y="52.90" font-size="7.0" text-anchor="start" font-weight="normal" font-style="normal" fill="#111" >MFM-223</text>
<line x1="55.80" y1="60.30" x2="70.60" y2="60.30" stroke="#0af8f8" stroke-width="0.9"/>
<circle cx="63.0" cy="60.3" r="1.0" fill="#0af8f8"/>
<text x="78.20" y="62.80" font-size="7.0" text-anchor="start" font-weight="normal" font-style="normal" fill="#111" >MDA-MB-468</text>
<line x1="103.30" y1="18.40" x2="136.80" y2="18.40" stroke="#444" stroke-width="0.9"/>
<line x1="104.30" y1="26.40" x2="136.80" y2="26.40" stroke="#444" stroke-width="0.9"/>
<line x1="104.30" y1="46.50" x2="136.80" y2="46.50" stroke="#444" stroke-width="0.9"/>
<line x1="104.30" y1="64.80" x2="136.80" y2="64.80" stroke="#444" stroke-width="0.9"/>
<line x1="123.90" y1="18.40" x2="123.90" y2="64.80" stroke="#444" stroke-width="0.9"/>
<text transform="translate(128.4 24.5) scale(0.88 1)" font-size="6.3" fill="#222">TP53 WT</text>
<text transform="translate(128.4 34.5) scale(0.88 1)" font-size="6.3" fill="#222">Stop (ST)</text>
<text transform="translate(128.4 42.7) scale(0.88 1)" font-size="6.3" fill="#222">Frameshift (FS)</text>
<text transform="translate(128.4 57.7) scale(0.88 1)" font-size="6.3" fill="#222">Missense (MS)</text>
<text x="271.20" y="56.90" font-size="11.3" font-weight="bold" font-style="italic" fill="#000" style="stroke:#000;stroke-width:0.55px">B</text>
<line x1="299.60" y1="63.00" x2="299.60" y2="150.40" stroke="#6a6a6a" stroke-width="1.0"/>
<line x1="297.20" y1="150.40" x2="299.60" y2="150.40" stroke="#262626" stroke-width="0.9"/>
<text x="296.60" y="152.60" font-size="6.0" text-anchor="end" font-weight="normal" font-style="normal" fill="#111" >1.1</text>
<line x1="297.20" y1="132.92" x2="299.60" y2="132.92" stroke="#262626" stroke-width="0.9"/>
<text x="296.60" y="135.12" font-size="6.0" text-anchor="end" font-weight="normal" font-style="normal" fill="#111" >1.2</text>
<line x1="297.20" y1="115.44" x2="299.60" y2="115.44" stroke="#262626" stroke-width="0.9"/>
<text x="296.60" y="117.64" font-size="6.0" text-anchor="end" font-weight="normal" font-style="normal" fill="#111" >1.3</text>
<line x1="297.20" y1="97.96" x2="299.60" y2="97.96" stroke="#262626" stroke-width="0.9"/>
<text x="296.60" y="100.16" font-size="6.0" text-anchor="end" font-weight="normal" font-style="normal" fill="#111" >1.4</text>
<line x1="297.20" y1="80.48" x2="299.60" y2="80.48" stroke="#262626" stroke-width="0.9"/>
<text x="296.60" y="82.68" font-size="6.0" text-anchor="end" font-weight="normal" font-style="normal" fill="#111" >1.5</text>
<line x1="297.20" y1="63.00" x2="299.60" y2="63.00" stroke="#262626" stroke-width="0.9"/>
<text x="296.60" y="65.20" font-size="6.0" text-anchor="end" font-weight="normal" font-style="normal" fill="#111" >1.6</text>
<line x1="299.60" y1="150.40" x2="357.50" y2="150.40" stroke="#6a6a6a" stroke-width="1.0"/>
<line x1="307.00" y1="150.40" x2="307.00" y2="152.60" stroke="#262626" stroke-width="0.9"/>
<line x1="317.83" y1="150.40" x2="317.83" y2="152.60" stroke="#262626" stroke-width="0.9"/>
<line x1="328.66" y1="150.40" x2="328.66" y2="152.60" stroke="#262626" stroke-width="0.9"/>
<line x1="339.49" y1="150.40" x2="339.49" y2="152.60" stroke="#262626" stroke-width="0.9"/>
<line x1="350.32" y1="150.40" x2="350.32" y2="152.60" stroke="#262626" stroke-width="0.9"/>
<line x1="307.00" y1="90.10" x2="307.00" y2="84.40" stroke="#222" stroke-width="0.7"/>
<line x1="305.40" y1="84.40" x2="308.60" y2="84.40" stroke="#222" stroke-width="0.7"/>
<rect x="303.45" y="90.10" width="7.10" height="60.30" fill="#0a0a0a" stroke="#2a2a2a" stroke-width="0.5"/>
<line x1="317.83" y1="101.90" x2="317.83" y2="97.40" stroke="#222" stroke-width="0.7"/>
<line x1="316.23" y1="97.40" x2="319.43" y2="97.40" stroke="#222" stroke-width="0.7"/>
<rect x="314.28" y="101.90" width="7.10" height="48.50" fill="#f8837a" stroke="#2a2a2a" stroke-width="0.5"/>
<line x1="328.66" y1="130.20" x2="328.66" y2="116.30" stroke="#222" stroke-width="0.7"/>
<line x1="327.06" y1="116.30" x2="330.26" y2="116.30" stroke="#222" stroke-width="0.7"/>
<rect x="325.11" y="130.20" width="7.10" height="20.20" fill="#1596f5" stroke="#2a2a2a" stroke-width="0.5"/>
<circle cx="328.66" cy="114.60" r="0.90" fill="#000"/>
<line x1="339.49" y1="137.00" x2="339.49" y2="133.90" stroke="#222" stroke-width="0.7"/>
<line x1="337.89" y1="133.90" x2="341.09" y2="133.90" stroke="#222" stroke-width="0.7"/>
<rect x="335.94" y="137.00" width="7.10" height="13.40" fill="#a3169f" stroke="#2a2a2a" stroke-width="0.5"/>
<circle cx="339.49" cy="131.00" r="0.90" fill="#000"/>
<line x1="350.32" y1="144.80" x2="350.32" y2="142.70" stroke="#222" stroke-width="0.7"/>
<line x1="348.72" y1="142.70" x2="351.92" y2="142.70" stroke="#222" stroke-width="0.7"/>
<rect x="346.77" y="144.80" width="7.10" height="5.60" fill="#0af8f8" stroke="#2a2a2a" stroke-width="0.5"/>
<circle cx="349.12" cy="140.20" r="0.90" fill="#000"/>
<circle cx="351.52" cy="140.20" r="0.90" fill="#000"/>
<text transform="translate(307.50 157.30) rotate(-45)" font-size="6.0" text-anchor="end" fill="#111">Cal-51</text>
<text transform="translate(318.33 157.30) rotate(-45)" font-size="6.0" text-anchor="end" fill="#111">HDQ-P1</text>
<text transform="translate(329.16 157.30) rotate(-45)" font-size="6.0" text-anchor="end" fill="#111">MDA-MB-157</text>
<text transform="translate(339.99 157.30) rotate(-45)" font-size="6.0" text-anchor="end" fill="#111">MFM-223</text>
<text transform="translate(350.82 157.30) rotate(-45)" font-size="6.0" text-anchor="end" fill="#111">MDA-MB-468</text>
<text transform="translate(279.0 108.0) rotate(-90)" font-size="5.7" text-anchor="middle" fill="#111">0mM Basal Ca<tspan font-size="3.8" dy="-2">2+</tspan></text>
<text transform="translate(285.5 106.5) rotate(-90)" font-size="5.7" text-anchor="middle" fill="#111">ΔF340/F380</text>
<text x="370.30" y="58.70" font-size="11" font-weight="bold" font-style="italic" fill="#000" style="stroke:#000;stroke-width:0.55px">C</text>
<line x1="395.60" y1="62.70" x2="395.60" y2="150.30" stroke="#6a6a6a" stroke-width="1.0"/>
<line x1="393.20" y1="150.30" x2="395.60" y2="150.30" stroke="#262626" stroke-width="0.9"/>
<text x="392.60" y="152.50" font-size="6.0" text-anchor="end" font-weight="normal" font-style="normal" fill="#111" >0.0</text>
<line x1="393.20" y1="121.10" x2="395.60" y2="121.10" stroke="#262626" stroke-width="0.9"/>
<text x="392.60" y="123.30" font-size="6.0" text-anchor="end" font-weight="normal" font-style="normal" fill="#111" >0.5</text>
<line x1="393.20" y1="91.90" x2="395.60" y2="91.90" stroke="#262626" stroke-width="0.9"/>
<text x="392.60" y="94.10" font-size="6.0" text-anchor="end" font-weight="normal" font-style="normal" fill="#111" >1.0</text>
<line x1="393.20" y1="62.70" x2="395.60" y2="62.70" stroke="#262626" stroke-width="0.9"/>
<text x="392.60" y="64.90" font-size="6.0" text-anchor="end" font-weight="normal" font-style="normal" fill="#111" >1.5</text>
<line x1="395.60" y1="150.30" x2="453.50" y2="150.30" stroke="#6a6a6a" stroke-width="1.0"/>
<line x1="402.40" y1="150.30" x2="402.40" y2="152.50" stroke="#262626" stroke-width="0.9"/>
<line x1="413.35" y1="150.30" x2="413.35" y2="152.50" stroke="#262626" stroke-width="0.9"/>
<line x1="424.30" y1="150.30" x2="424.30" y2="152.50" stroke="#262626" stroke-width="0.9"/>
<line x1="435.25" y1="150.30" x2="435.25" y2="152.50" stroke="#262626" stroke-width="0.9"/>
<line x1="446.20" y1="150.30" x2="446.20" y2="152.50" stroke="#262626" stroke-width="0.9"/>
<line x1="402.40" y1="101.30" x2="402.40" y2="90.00" stroke="#222" stroke-width="0.7"/>
<line x1="400.80" y1="90.00" x2="404.00" y2="90.00" stroke="#222" stroke-width="0.7"/>
<rect x="398.95" y="101.30" width="6.90" height="49.00" fill="#0a0a0a" stroke="#2a2a2a" stroke-width="0.5"/>
<line x1="413.35" y1="129.70" x2="413.35" y2="127.40" stroke="#222" stroke-width="0.7"/>
<line x1="411.75" y1="127.40" x2="414.95" y2="127.40" stroke="#222" stroke-width="0.7"/>
<rect x="409.90" y="129.70" width="6.90" height="20.60" fill="#f8837a" stroke="#2a2a2a" stroke-width="0.5"/>
<circle cx="413.35" cy="125.40" r="0.90" fill="#000"/>
<line x1="424.30" y1="131.10" x2="424.30" y2="128.20" stroke="#222" stroke-width="0.7"/>
<line x1="422.70" y1="128.20" x2="425.90" y2="128.20" stroke="#222" stroke-width="0.7"/>
<rect x="420.85" y="131.10" width="6.90" height="19.20" fill="#1596f5" stroke="#2a2a2a" stroke-width="0.5"/>
<circle cx="424.30" cy="125.70" r="0.90" fill="#000"/>
<line x1="435.25" y1="124.50" x2="435.25" y2="122.00" stroke="#222" stroke-width="0.7"/>
<line x1="433.65" y1="122.00" x2="436.85" y2="122.00" stroke="#222" stroke-width="0.7"/>
<rect x="431.80" y="124.50" width="6.90" height="25.80" fill="#a3169f" stroke="#2a2a2a" stroke-width="0.5"/>
<line x1="446.20" y1="133.70" x2="446.20" y2="129.40" stroke="#222" stroke-width="0.7"/>
<line x1="444.60" y1="129.40" x2="447.80" y2="129.40" stroke="#222" stroke-width="0.7"/>
<rect x="442.75" y="133.70" width="6.90" height="16.60" fill="#0af8f8" stroke="#2a2a2a" stroke-width="0.5"/>
<circle cx="446.20" cy="127.20" r="0.90" fill="#000"/>
<text transform="translate(402.90 157.60) rotate(-45)" font-size="6.0" text-anchor="end" fill="#111">Cal-51</text>
<text transform="translate(413.85 157.60) rotate(-45)" font-size="6.0" text-anchor="end" fill="#111">HDQ-P1</text>
<text transform="translate(424.80 157.60) rotate(-45)" font-size="6.0" text-anchor="end" fill="#111">MDA-MB-157</text>
<text transform="translate(435.75 157.60) rotate(-45)" font-size="6.0" text-anchor="end" fill="#111">MFM-223</text>
<text transform="translate(446.70 157.60) rotate(-45)" font-size="6.0" text-anchor="end" fill="#111">MDA-MB-468</text>
<text transform="translate(371.9 106.6) rotate(-90)" font-size="5.7" text-anchor="middle" fill="#111">TG Peak</text>
<text transform="translate(378.2 104.7) rotate(-90)" font-size="5.25" text-anchor="middle" fill="#111">Δ F340/F380</text>
<text x="469.80" y="55.50" font-size="11" font-weight="bold" font-style="italic" fill="#000" style="stroke:#000;stroke-width:0.55px">D</text>
<line x1="487.50" y1="62.50" x2="487.50" y2="149.30" stroke="#6a6a6a" stroke-width="1.0"/>
<line x1="485.10" y1="149.30" x2="487.50" y2="149.30" stroke="#262626" stroke-width="0.9"/>
<text x="484.50" y="151.50" font-size="6.0" text-anchor="end" font-weight="normal" font-style="normal" fill="#111" >0</text>
<line x1="485.10" y1="127.60" x2="487.50" y2="127.60" stroke="#262626" stroke-width="0.9"/>
<text x="484.50" y="129.80" font-size="6.0" text-anchor="end" font-weight="normal" font-style="normal" fill="#111" >1</text>
<line x1="485.10" y1="105.90" x2="487.50" y2="105.90" stroke="#262626" stroke-width="0.9"/>
<text x="484.50" y="108.10" font-size="6.0" text-anchor="end" font-weight="normal" font-style="normal" fill="#111" >2</text>
<line x1="485.10" y1="84.20" x2="487.50" y2="84.20" stroke="#262626" stroke-width="0.9"/>
<text x="484.50" y="86.40" font-size="6.0" text-anchor="end" font-weight="normal" font-style="normal" fill="#111" >3</text>
<line x1="485.10" y1="62.50" x2="487.50" y2="62.50" stroke="#262626" stroke-width="0.9"/>
<text x="484.50" y="64.70" font-size="6.0" text-anchor="end" font-weight="normal" font-style="normal" fill="#111" >4</text>
<line x1="487.50" y1="149.30" x2="546.00" y2="149.30" stroke="#6a6a6a" stroke-width="1.0"/>
<line x1="494.85" y1="149.30" x2="494.85" y2="151.50" stroke="#262626" stroke-width="0.9"/>
<line x1="505.80" y1="149.30" x2="505.80" y2="151.50" stroke="#262626" stroke-width="0.9"/>
<line x1="516.75" y1="149.30" x2="516.75" y2="151.50" stroke="#262626" stroke-width="0.9"/>
<line x1="527.70" y1="149.30" x2="527.70" y2="151.50" stroke="#262626" stroke-width="0.9"/>
<line x1="538.65" y1="149.30" x2="538.65" y2="151.50" stroke="#262626" stroke-width="0.9"/>
<line x1="494.85" y1="104.30" x2="494.85" y2="101.00" stroke="#222" stroke-width="0.7"/>
<line x1="493.25" y1="101.00" x2="496.45" y2="101.00" stroke="#222" stroke-width="0.7"/>
<rect x="491.20" y="104.30" width="7.30" height="45.00" fill="#0a0a0a" stroke="#2a2a2a" stroke-width="0.5"/>
<line x1="505.80" y1="116.50" x2="505.80" y2="112.80" stroke="#222" stroke-width="0.7"/>
<line x1="504.20" y1="112.80" x2="507.40" y2="112.80" stroke="#222" stroke-width="0.7"/>
<rect x="502.15" y="116.50" width="7.30" height="32.80" fill="#f8837a" stroke="#2a2a2a" stroke-width="0.5"/>
<line x1="516.75" y1="125.50" x2="516.75" y2="120.60" stroke="#222" stroke-width="0.7"/>
<line x1="515.15" y1="120.60" x2="518.35" y2="120.60" stroke="#222" stroke-width="0.7"/>
<rect x="513.10" y="125.50" width="7.30" height="23.80" fill="#1596f5" stroke="#2a2a2a" stroke-width="0.5"/>
<circle cx="516.75" cy="118.20" r="0.90" fill="#000"/>
<line x1="527.70" y1="125.50" x2="527.70" y2="122.90" stroke="#222" stroke-width="0.7"/>
<line x1="526.10" y1="122.90" x2="529.30" y2="122.90" stroke="#222" stroke-width="0.7"/>
<rect x="524.05" y="125.50" width="7.30" height="23.80" fill="#a3169f" stroke="#2a2a2a" stroke-width="0.5"/>
<line x1="538.65" y1="92.20" x2="538.65" y2="87.10" stroke="#222" stroke-width="0.7"/>
<line x1="537.05" y1="87.10" x2="540.25" y2="87.10" stroke="#222" stroke-width="0.7"/>
<rect x="535.00" y="92.20" width="7.30" height="57.10" fill="#0af8f8" stroke="#2a2a2a" stroke-width="0.5"/>
<text transform="translate(495.35 156.30) rotate(-45)" font-size="6.0" text-anchor="end" fill="#111">Cal-51</text>
<text transform="translate(506.30 156.30) rotate(-45)" font-size="6.0" text-anchor="end" fill="#111">HDQ-P1</text>
<text transform="translate(517.25 156.30) rotate(-45)" font-size="6.0" text-anchor="end" fill="#111">MDA-MB-157</text>
<text transform="translate(528.20 156.30) rotate(-45)" font-size="6.0" text-anchor="end" fill="#111">MFM-223</text>
<text transform="translate(539.15 156.30) rotate(-45)" font-size="6.0" text-anchor="end" fill="#111">MDA-MB-468</text>
<text transform="translate(471.40 106.00) rotate(-90)" font-size="5.7" text-anchor="middle" fill="#111">Calcium Entry</text>
<text transform="translate(478.60 106.00) rotate(-90)" font-size="5.7" text-anchor="middle" fill="#111">Δ F340/F380</text>
<text x="10.20" y="222.20" font-size="10.9" font-weight="bold" font-style="italic" fill="#000" style="stroke:#000;stroke-width:0.55px">E</text>
<line x1="35.90" y1="230.40" x2="35.90" y2="337.20" stroke="#6a6a6a" stroke-width="1.1"/>
<line x1="32.90" y1="337.20" x2="35.90" y2="337.20" stroke="#262626" stroke-width="0.9"/>
<text x="32.10" y="340.40" font-size="9.0" text-anchor="end" font-weight="normal" font-style="normal" fill="#111" >0</text>
<line x1="32.90" y1="310.50" x2="35.90" y2="310.50" stroke="#262626" stroke-width="0.9"/>
<text x="32.10" y="313.70" font-size="9.0" text-anchor="end" font-weight="normal" font-style="normal" fill="#111" >1</text>
<line x1="32.90" y1="283.80" x2="35.90" y2="283.80" stroke="#262626" stroke-width="0.9"/>
<text x="32.10" y="287.00" font-size="9.0" text-anchor="end" font-weight="normal" font-style="normal" fill="#111" >2</text>
<line x1="32.90" y1="257.10" x2="35.90" y2="257.10" stroke="#262626" stroke-width="0.9"/>
<text x="32.10" y="260.30" font-size="9.0" text-anchor="end" font-weight="normal" font-style="normal" fill="#111" >3</text>
<line x1="32.90" y1="230.40" x2="35.90" y2="230.40" stroke="#262626" stroke-width="0.9"/>
<text x="32.10" y="233.60" font-size="9.0" text-anchor="end" font-weight="normal" font-style="normal" fill="#111" >4</text>
<line x1="35.90" y1="337.20" x2="143.00" y2="337.20" stroke="#6a6a6a" stroke-width="1.1"/>
<line x1="49.50" y1="337.20" x2="49.50" y2="340.20" stroke="#262626" stroke-width="0.9"/>
<line x1="69.57" y1="337.20" x2="69.57" y2="340.20" stroke="#262626" stroke-width="0.9"/>
<line x1="89.64" y1="337.20" x2="89.64" y2="340.20" stroke="#262626" stroke-width="0.9"/>
<line x1="109.71" y1="337.20" x2="109.71" y2="340.20" stroke="#262626" stroke-width="0.9"/>
<line x1="129.78" y1="337.20" x2="129.78" y2="340.20" stroke="#262626" stroke-width="0.9"/>
<line x1="49.50" y1="236.90" x2="49.50" y2="235.30" stroke="#222" stroke-width="0.7"/>
<line x1="46.50" y1="235.30" x2="52.50" y2="235.30" stroke="#222" stroke-width="0.7"/>
<rect x="42.75" y="236.90" width="13.50" height="100.30" fill="#0a0a0a" stroke="#2a2a2a" stroke-width="0.5"/>
<line x1="69.57" y1="267.80" x2="69.57" y2="265.60" stroke="#222" stroke-width="0.7"/>
<line x1="66.57" y1="265.60" x2="72.57" y2="265.60" stroke="#222" stroke-width="0.7"/>
<rect x="62.82" y="267.80" width="13.50" height="69.40" fill="#f8837a" stroke="#2a2a2a" stroke-width="0.5"/>
<circle cx="69.57" cy="262.20" r="1.20" fill="#000"/>
<line x1="89.64" y1="323.20" x2="89.64" y2="322.00" stroke="#222" stroke-width="0.7"/>
<line x1="86.64" y1="322.00" x2="92.64" y2="322.00" stroke="#222" stroke-width="0.7"/>
<rect x="82.89" y="323.20" width="13.50" height="14.00" fill="#1596f5" stroke="#2a2a2a" stroke-width="0.5"/>
<circle cx="84.84" cy="318.40" r="1.20" fill="#000"/>
<circle cx="88.04" cy="318.40" r="1.20" fill="#000"/>
<circle cx="91.24" cy="318.40" r="1.20" fill="#000"/>
<circle cx="94.44" cy="318.40" r="1.20" fill="#000"/>
<line x1="109.71" y1="316.00" x2="109.71" y2="313.60" stroke="#222" stroke-width="0.7"/>
<line x1="106.71" y1="313.60" x2="112.71" y2="313.60" stroke="#222" stroke-width="0.7"/>
<rect x="102.96" y="316.00" width="13.50" height="21.20" fill="#a3169f" stroke="#2a2a2a" stroke-width="0.5"/>
<circle cx="104.91" cy="311.10" r="1.20" fill="#000"/>
<circle cx="108.11" cy="311.10" r="1.20" fill="#000"/>
<circle cx="111.31" cy="311.10" r="1.20" fill="#000"/>
<circle cx="114.51" cy="311.10" r="1.20" fill="#000"/>
<line x1="129.78" y1="240.80" x2="129.78" y2="239.00" stroke="#222" stroke-width="0.7"/>
<line x1="126.78" y1="239.00" x2="132.78" y2="239.00" stroke="#222" stroke-width="0.7"/>
<rect x="123.03" y="240.80" width="13.50" height="96.40" fill="#0af8f8" stroke="#2a2a2a" stroke-width="0.5"/>
<text transform="translate(50.70 346.40) rotate(-45)" font-size="8.8" text-anchor="end" fill="#111">CAL-51</text>
<text transform="translate(70.77 346.40) rotate(-45)" font-size="8.8" text-anchor="end" fill="#111">HDQ-P1</text>
<text transform="translate(90.84 346.40) rotate(-45)" font-size="8.8" text-anchor="end" fill="#111">MDA-MB-157</text>
<text transform="translate(110.91 346.40) rotate(-45)" font-size="8.8" text-anchor="end" fill="#111">MFM-223</text>
<text transform="translate(130.98 346.40) rotate(-45)" font-size="8.8" text-anchor="end" fill="#111">MDA-MB-468</text>
<text transform="translate(12.4 288.4) rotate(-90)" font-size="9.5" text-anchor="middle" fill="#111">Cell Proliferation</text>
<text transform="translate(22.2 286.8) rotate(-90)" font-size="9.4" text-anchor="middle" fill="#111">Rate (A<tspan font-size="6.2" dy="1.8">405</tspan><tspan dy="-1.8">)</tspan></text>
<text x="169.00" y="222.00" font-size="10.9" font-weight="bold" font-style="italic" fill="#000" style="stroke:#000;stroke-width:0.55px">F</text>
<line x1="203.60" y1="228.10" x2="203.60" y2="336.30" stroke="#6a6a6a" stroke-width="1.1"/>
<line x1="200.60" y1="336.30" x2="203.60" y2="336.30" stroke="#262626" stroke-width="0.9"/>
<text x="199.80" y="339.50" font-size="9.0" text-anchor="end" font-weight="normal" font-style="normal" fill="#111" >0</text>
<line x1="200.60" y1="318.27" x2="203.60" y2="318.27" stroke="#262626" stroke-width="0.9"/>
<text x="199.80" y="321.47" font-size="9.0" text-anchor="end" font-weight="normal" font-style="normal" fill="#111" >20</text>
<line x1="200.60" y1="300.23" x2="203.60" y2="300.23" stroke="#262626" stroke-width="0.9"/>
<text x="199.80" y="303.43" font-size="9.0" text-anchor="end" font-weight="normal" font-style="normal" fill="#111" >40</text>
<line x1="200.60" y1="282.20" x2="203.60" y2="282.20" stroke="#262626" stroke-width="0.9"/>
<text x="199.80" y="285.40" font-size="9.0" text-anchor="end" font-weight="normal" font-style="normal" fill="#111" >60</text>
<line x1="200.60" y1="264.16" x2="203.60" y2="264.16" stroke="#262626" stroke-width="0.9"/>
<text x="199.80" y="267.36" font-size="9.0" text-anchor="end" font-weight="normal" font-style="normal" fill="#111" >80</text>
<line x1="200.60" y1="246.13" x2="203.60" y2="246.13" stroke="#262626" stroke-width="0.9"/>
<text x="199.80" y="249.33" font-size="9.0" text-anchor="end" font-weight="normal" font-style="normal" fill="#111" >100</text>
<line x1="200.60" y1="228.10" x2="203.60" y2="228.10" stroke="#262626" stroke-width="0.9"/>
<text x="199.80" y="231.30" font-size="9.0" text-anchor="end" font-weight="normal" font-style="normal" fill="#111" >120</text>
<line x1="203.60" y1="336.30" x2="310.60" y2="336.30" stroke="#6a6a6a" stroke-width="1.1"/>
<line x1="216.80" y1="336.30" x2="216.80" y2="339.30" stroke="#262626" stroke-width="0.9"/>
<line x1="236.95" y1="336.30" x2="236.95" y2="339.30" stroke="#262626" stroke-width="0.9"/>
<line x1="257.10" y1="336.30" x2="257.10" y2="339.30" stroke="#262626" stroke-width="0.9"/>
<line x1="277.25" y1="336.30" x2="277.25" y2="339.30" stroke="#262626" stroke-width="0.9"/>
<line x1="297.40" y1="336.30" x2="297.40" y2="339.30" stroke="#262626" stroke-width="0.9"/>
<line x1="216.80" y1="248.10" x2="216.80" y2="247.50" stroke="#222" stroke-width="0.7"/>
<line x1="213.80" y1="247.50" x2="219.80" y2="247.50" stroke="#222" stroke-width="0.7"/>
<rect x="210.00" y="248.10" width="13.60" height="88.20" fill="#0a0a0a" stroke="#2a2a2a" stroke-width="0.5"/>
<line x1="236.95" y1="257.50" x2="236.95" y2="257.00" stroke="#222" stroke-width="0.7"/>
<line x1="233.95" y1="257.00" x2="239.95" y2="257.00" stroke="#222" stroke-width="0.7"/>
<rect x="230.15" y="257.50" width="13.60" height="78.80" fill="#f8837a" stroke="#2a2a2a" stroke-width="0.5"/>
<line x1="257.10" y1="270.40" x2="257.10" y2="267.30" stroke="#222" stroke-width="0.7"/>
<line x1="254.10" y1="267.30" x2="260.10" y2="267.30" stroke="#222" stroke-width="0.7"/>
<rect x="250.30" y="270.40" width="13.60" height="65.90" fill="#1596f5" stroke="#2a2a2a" stroke-width="0.5"/>
<circle cx="257.10" cy="263.80" r="1.20" fill="#000"/>
<line x1="277.25" y1="287.00" x2="277.25" y2="283.40" stroke="#222" stroke-width="0.7"/>
<line x1="274.25" y1="283.40" x2="280.25" y2="283.40" stroke="#222" stroke-width="0.7"/>
<rect x="270.45" y="287.00" width="13.60" height="49.30" fill="#a3169f" stroke="#2a2a2a" stroke-width="0.5"/>
<circle cx="275.65" cy="280.30" r="1.20" fill="#000"/>
<circle cx="278.85" cy="280.30" r="1.20" fill="#000"/>
<line x1="297.40" y1="257.10" x2="297.40" y2="251.40" stroke="#222" stroke-width="0.7"/>
<line x1="294.40" y1="251.40" x2="300.40" y2="251.40" stroke="#222" stroke-width="0.7"/>
<rect x="290.60" y="257.10" width="13.60" height="79.20" fill="#0af8f8" stroke="#2a2a2a" stroke-width="0.5"/>
<text transform="translate(218.30 345.40) rotate(-45)" font-size="8.8" text-anchor="end" fill="#111">CAL-51</text>
<text transform="translate(238.45 345.40) rotate(-45)" font-size="8.8" text-anchor="end" fill="#111">HDQ-P1</text>
<text transform="translate(258.60 345.40) rotate(-45)" font-size="8.8" text-anchor="end" fill="#111">MDA-MB-157</text>
<text transform="translate(278.75 345.40) rotate(-45)" font-size="8.8" text-anchor="end" fill="#111">MFM-223</text>
<text transform="translate(298.90 345.40) rotate(-45)" font-size="8.8" text-anchor="end" fill="#111">MDA-MB-468</text>
<text transform="translate(178.8 281.2) rotate(-90)" font-size="8.6" text-anchor="middle" fill="#111">% Growth Inhibition</text>
<text x="257.00" y="233.70" font-size="7.4" text-anchor="middle" font-weight="normal" font-style="normal" fill="#111" >TG 100nM&#160; 5 Days</text>
<line x1="214.70" y1="239.30" x2="296.90" y2="239.30" stroke="#9a9a9a" stroke-width="1.5"/>
</svg>
</body></html>
